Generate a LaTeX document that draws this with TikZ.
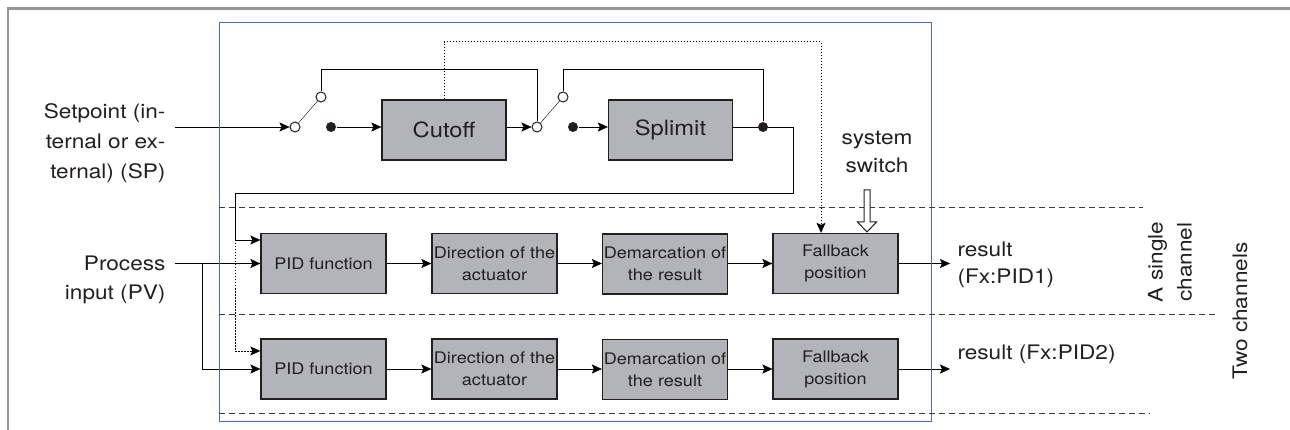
\documentclass[tikz,border=0pt]{standalone}
\usepackage{fontspec}
\setmainfont{TeX Gyre Heros}[FakeStretch=1.13]
\usetikzlibrary{arrows.meta,backgrounds}
\definecolor{boxgray}{RGB}{179,180,183}
\definecolor{ink}{RGB}{35,31,32}
\definecolor{framec}{RGB}{150,150,150}
\definecolor{blueframe}{RGB}{70,110,180}
\definecolor{dashc}{RGB}{60,60,60}
\begin{document}
\begin{tikzpicture}[x=1pt,y=-1pt,color=ink,line width=1.1pt,
  arr/.style={-{Stealth[length=10pt,width=9pt,inset=2pt]}},
  dotarr/.style={dash pattern=on 1.5pt off 1.5pt,line width=1pt,-{Stealth[length=10pt,width=9pt,inset=2pt]}},
  box/.style={draw=ink,fill=boxgray,line width=1.3pt,minimum width=125pt,minimum height=60pt,inner sep=0pt,align=center,text=ink,font=\fontsize{16}{22}\selectfont},
  bigbox/.style={box,minimum width=124pt,font=\fontsize{21}{25}\selectfont},
  opensw/.style={circle,draw=ink,fill=white,line width=1pt,minimum size=10pt,inner sep=0pt},
  fdot/.style={circle,fill=ink,minimum size=10pt,inner sep=0pt},
  lbl/.style={inner sep=0pt,text=ink,font=\fontsize{20}{30}\selectfont},
  sepline/.style={dash pattern=on 6pt off 4pt,line width=1pt,draw=dashc},
]
\useasboundingbox (0,0) rectangle (1290,430);

% frames
\draw[framec,line width=2.5pt] (8,430) -- (8,8.5) -- (1290,8.5);
\draw[blueframe,line width=1pt] (219,22.5) rectangle (931.5,421);
\draw[sepline] (219,208) -- (1143,208);
\draw[sepline] (219,314) -- (1218,314);
\draw[sepline] (219,413) -- (1150,413);

% boxes
\node[bigbox] (cut) at (444,130) {Cutoff};
\node[bigbox] (spl) at (670.5,130) {Splimit};
\node[box] (pid1) at (323.5,263.5) {PID function};
\node[box] (dir1) at (494.5,263.5) {Direction of the\\actuator};
\node[box] (dem1) at (665,264) {Demarcation of\\the result};
\node[box] (fb1) at (835.5,263.5) {Fallback\\position};
\node[box] (pid2) at (323.5,369) {PID function};
\node[box] (dir2) at (494.5,369) {Direction of the\\actuator};
\node[box] (dem2) at (665,369.5) {Demarcation of\\the result};
\node[box] (fb2) at (835.5,369) {Fallback\\position};

% switches and dots
\node[opensw] (s1a) at (295,127) {};
\node[opensw] (s1b) at (321,97) {};
\node[fdot] (d1) at (331,127) {};
\node[opensw] (s2a) at (537,127) {};
\node[opensw] (s2b) at (563,97) {};
\node[fdot] (d2) at (573,127) {};
\node[fdot] (j1) at (763,127) {};

% labels
\node[lbl,anchor=east,align=right] (sp) at (166,143) {Setpoint (in-\\ternal or ex-\\ternal) (SP)};
\node[lbl,anchor=east,align=right,font=\fontsize{20}{29}\selectfont] (pv) at (166,280) {Process\\input (PV)};
\node[lbl,anchor=west,align=left,font=\fontsize{20}{27}\selectfont] (res1) at (957,265) {result\\(Fx:PID1)};
\node[lbl,anchor=west] (res2) at (957,354) {result (Fx:PID2)};
\node[lbl,align=center,font=\fontsize{20}{28}\selectfont] (sys) at (877,152) {system\\switch};
\node[lbl,rotate=90,align=center,font=\fontsize{20}{29}\selectfont] (single) at (1170,262) {A single\\channel};
\node[lbl,rotate=90] (two) at (1240,311) {Two channels};

% coordinates
\coordinate (top) at (0,69);
\coordinate (dt) at (821,42);
\coordinate (spin) at (175,127);
\coordinate (r1) at (793,193);
\coordinate (l1) at (235,240);
\coordinate (l2) at (235,351);
\coordinate (pvin) at (175,263.5);
\coordinate (pvj) at (202,263.5);
\coordinate (o1) at (950,263.5);
\coordinate (o2) at (950,369);

\begin{pgfonlayer}{background}
\draw[arr] (spin) -- (s1a);
\draw (s1a) -- (s1b);
\draw (s1b) -- (s1b |- top) -| (s2a);
\draw[arr] (d1) -- (d1 -| cut.west);
\draw[arr] (cut.east |- s2a) -- (s2a);
\draw (s2a) -- (s2b);
\draw (s2b) -- (s2b |- top) -| (j1);
\draw[arr] (d2) -- (d2 -| spl.west);
\draw[arr] (spl.east |- j1) -| (r1) -| (l1) -- (l1 -| pid1.west);
\draw[dotarr] (cut.north) |- (dt) -- (dt |- fb1.north);
\draw[dotarr] (l1) -- (l2) -- (l2 -| pid2.west);
\draw[arr] (pvin) -- (pid1.west);
\draw[arr] (pvj) |- (pid2.west);
\draw[arr] (pid1.east) -- (pid1.east -| dir1.west);
\draw[arr] (dir1.east) -- (dir1.east -| dem1.west);
\draw[arr] (dem1.east |- fb1) -- (fb1.west);
\draw[arr] (fb1.east) -- (o1);
\draw[arr] (pid2.east) -- (pid2.east -| dir2.west);
\draw[arr] (dir2.east) -- (dir2.east -| dem2.west);
\draw[arr] (dem2.east |- fb2) -- (fb2.west);
\draw[arr] (fb2.east) -- (o2);
\end{pgfonlayer}

% system switch hollow arrow
\draw[line width=1pt,fill=white] (864,190) -- (870,190) -- (870,222) -- (876.5,222) -- (867,232) -- (857.5,222) -- (864,222) -- cycle;
\end{tikzpicture}
\end{document}
